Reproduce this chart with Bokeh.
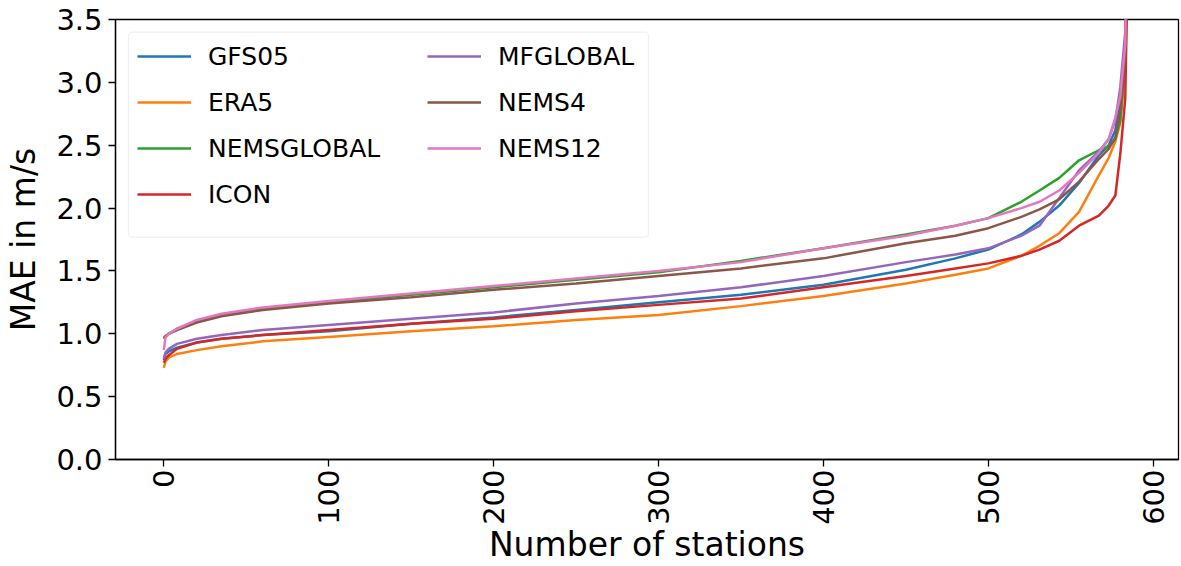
import math
from bokeh.plotting import figure
from bokeh.models import (Legend, LegendItem, FixedTicker, NumeralTickFormatter, Range1d,
                          BoxAnnotation)
from bokeh.embed import file_html
from bokeh.resources import INLINE

# station index (sorted stations), read at these positions
stations = [0, 1, 3, 8, 20, 35, 60, 100, 150, 200, 250, 300, 350, 400, 450, 480, 500,
            520, 531, 543, 555, 567, 573, 577, 580, 583, 586]

gfs05 = [0.79, 0.84, 0.86, 0.89, 0.93, 0.96, 0.99, 1.02, 1.08, 1.13, 1.19, 1.25, 1.31, 1.39,
         1.51, 1.60, 1.67, 1.79, 1.89, 2.02, 2.20, 2.42, 2.50, 2.62, 2.85, 3.30, 5.5]
era5 = [0.73, 0.78, 0.81, 0.84, 0.87, 0.90, 0.94, 0.975, 1.02, 1.06, 1.11, 1.15, 1.22, 1.30,
        1.40, 1.47, 1.52, 1.62, 1.70, 1.80, 1.97, 2.26, 2.40, 2.53, 2.68, 3.10, 5.0]
nemsglobal = [0.97, 0.98, 1.00, 1.04, 1.10, 1.15, 1.20, 1.25, 1.31, 1.37, 1.43, 1.49, 1.58, 1.68,
              1.79, 1.86, 1.92, 2.05, 2.14, 2.24, 2.38, 2.46, 2.49, 2.55, 2.70, 3.20, 5.5]
icon = [0.77, 0.80, 0.83, 0.88, 0.93, 0.96, 0.99, 1.03, 1.08, 1.12, 1.18, 1.23, 1.28, 1.37,
        1.46, 1.52, 1.56, 1.62, 1.67, 1.74, 1.86, 1.94, 2.02, 2.10, 2.43, 2.87, 5.0]
mfglobal = [0.80, 0.85, 0.88, 0.92, 0.96, 0.99, 1.03, 1.07, 1.12, 1.17, 1.24, 1.30, 1.37, 1.46,
            1.57, 1.63, 1.68, 1.78, 1.86, 2.08, 2.30, 2.45, 2.55, 2.70, 2.96, 3.40, 6.0]
nems4 = [0.96, 0.98, 1.00, 1.03, 1.09, 1.14, 1.19, 1.24, 1.29, 1.35, 1.40, 1.46, 1.52, 1.60,
         1.72, 1.78, 1.84, 1.93, 1.99, 2.07, 2.21, 2.39, 2.47, 2.56, 2.78, 3.20, 5.5]
nems12 = [0.87, 0.97, 1.00, 1.04, 1.11, 1.16, 1.21, 1.26, 1.32, 1.38, 1.44, 1.50, 1.57, 1.68,
          1.78, 1.86, 1.92, 2.00, 2.05, 2.14, 2.28, 2.44, 2.55, 2.72, 2.89, 3.30, 6.0]

series_names = ["GFS05", "ERA5", "NEMSGLOBAL", "ICON", "MFGLOBAL", "NEMS4", "NEMS12"]
series_values = [gfs05, era5, nemsglobal, icon, mfglobal, nems4, nems12]
colors = ["#1f77b4", "#ff7f0e", "#2ca02c", "#d62728", "#9467bd", "#8c564b", "#e377c2"]

x_ticks = [0, 100, 200, 300, 400, 500, 600]
y_ticks = [0.0, 0.5, 1.0, 1.5, 2.0, 2.5, 3.0, 3.5]

FONT = "DejaVu Sans"

X0, X1 = -29.3, 615.3
Y0, Y1 = 0.0, 3.5

p = figure(width=1181, height=566, output_backend="svg", toolbar_location=None,
           x_range=Range1d(X0, X1), y_range=Range1d(Y0, Y1),
           min_border_left=115, min_border_right=3, min_border_top=19, min_border_bottom=107)
p.xgrid.visible = False
p.ygrid.visible = False
p.background_fill_color = "white"
p.border_fill_color = "white"
p.outline_line_color = "black"
p.outline_line_width = 1.3

items = []
for name, vals, col in zip(series_names, series_values, colors):
    r = p.line(stations, vals, line_color=col, line_width=2.5)
    items.append(LegendItem(label=name, renderers=[r]))

for ax in (p.xaxis[0], p.yaxis[0]):
    ax.axis_line_color = "black"
    ax.axis_line_width = 1.3
    ax.major_tick_line_color = "black"
    ax.major_tick_line_width = 1.3
    ax.major_tick_out = 7
    ax.major_tick_in = 0
    ax.minor_tick_line_color = None
    ax.major_label_text_font = FONT
    ax.major_label_text_font_size = "29px"
    ax.major_label_text_color = "black"
    ax.axis_label_text_font = FONT
    ax.axis_label_text_font_size = "33px"
    ax.axis_label_text_font_style = "normal"
    ax.axis_label_text_color = "black"

p.xaxis.ticker = FixedTicker(ticks=x_ticks)
p.yaxis.ticker = FixedTicker(ticks=y_ticks)
p.yaxis.formatter = NumeralTickFormatter(format="0.0")
p.xaxis.major_label_orientation = math.pi / 2
p.xaxis.major_label_standoff = 3
p.yaxis.major_label_standoff = 6
p.xaxis.axis_label = "Number of stations"
p.yaxis.axis_label = "MAE in m/s"
p.xaxis.axis_label_standoff = -3
p.yaxis.axis_label_standoff = 10

# legend frame (matplotlib-style box)
px_per_x = 1063.0 / (X1 - X0)
px_per_y = 440.0 / (Y1 - Y0)
box = BoxAnnotation(left=X0 + 13.0 / px_per_x, right=X0 + 533.0 / px_per_x,
                    top=Y1 - 12.7 / px_per_y, bottom=Y1 - 217.7 / px_per_y,
                    fill_color="white", fill_alpha=0.8,
                    line_color="#cccccc", line_width=1.3, border_radius=4)
p.add_layout(box)

legend = Legend(items=items, location="top_left", ncols=2)
legend.margin = 22
legend.padding = 7
legend.spacing = 16
legend.glyph_width = 54
legend.glyph_height = 30
legend.label_height = 30
legend.label_width = 203
legend.label_standoff = 17
legend.label_text_font = FONT
legend.label_text_font_size = "25px"
legend.label_text_color = "black"
legend.border_line_color = None
legend.background_fill_alpha = 0
p.add_layout(legend)

open("out.html", "w").write(file_html(p, INLINE))
